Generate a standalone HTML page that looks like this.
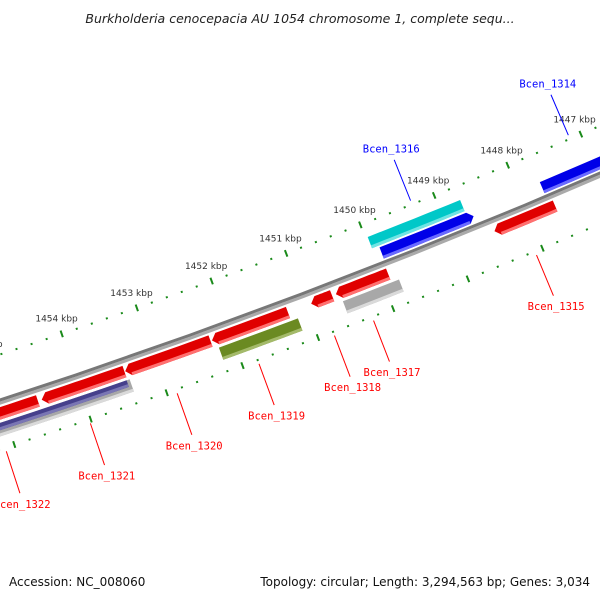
<!DOCTYPE html>
<html><head><meta charset="utf-8"><style>
body{margin:0;background:#fff;width:600px;height:600px;overflow:hidden;font-family:"DejaVu Sans","Liberation Sans",sans-serif}
svg{position:absolute;left:0;top:0}
</style></head><body>
<svg id="chart" width="600" height="600" viewBox="0 0 600 600">
<text x="300" y="23" text-anchor="middle" font-style="italic" font-size="12.5" fill="#222">Burkholderia cenocepacia AU 1054 chromosome 1, complete sequ...</text>
<g id="ticks"></g><g id="backbone"></g><g id="genes"></g><g id="labels"></g>
<text x="9" y="586" font-size="12" fill="#111">Accession: NC_008060</text>
<text x="590" y="586" text-anchor="end" font-size="12" fill="#111">Topology: circular; Length: 3,294,563 bp; Genes: 3,034</text>
</svg>
<script>
const geneNames=["Bcen_1314","Bcen_1316c","Bcen_1316","Bcen_1315","Bcen_1318","Bcen_1317r","Bcen_1317","Bcen_1319r","Bcen_1319","Bcen_1320","Bcen_1321r","Bcen_1321g","Bcen_1321p","Bcen_1322"];
const geneStart=[1447.71,1449.97,1449.88,1448.47,1450.93,1450.6,1450.55,1452.25,1452.2,1453.4,1454.5,1455.8,1455.8,1455.6];
const geneEnd=[1446.3,1448.72,1448.64,1447.65,1450.65,1449.9,1449.8,1451.24,1451.15,1452.27,1453.41,1453.38,1453.42,1454.55];
const geneRow=[1,2,1,-1,-1,-1,-2,-1,-2,-1,-1,-2,-2.2,-1];
const geneColor=["blue","cyan","blue","red","red","red","gray","red","olive","red","red","gray","purple","red"];
const geneDir=[1,0,1,-1,-1,-1,0,-1,0,-1,-1,0,0,-1];
const labelText=["Bcen_1314","Bcen_1316","Bcen_1315","Bcen_1318","Bcen_1317","Bcen_1319","Bcen_1320","Bcen_1321","Bcen_1322"];
const labelPos=[1447.15,1449.3,1448.1,1450.8,1450.28,1451.8,1452.88,1454.02,1455.12];
const labelSide=[1,1,-1,-1,-1,-1,-1,-1,-1];
const tickLabels=[1446,1447,1448,1449,1450,1451,1452,1453,1454,1455];

const R=-7000, pxPerKbp=80;
const n0=[-0.375,-0.927];
const C=[451-R*n0[0],237-R*n0[1]];
const a0=Math.atan2(n0[1],n0[0]);
function P(b,r){const a=a0-(b-1449)*pxPerKbp/R;return [C[0]+(R+r)*Math.cos(a),C[1]+(R+r)*Math.sin(a)];}
const NS="http://www.w3.org/2000/svg";
function mk(tag,attrs,parent){const e=document.createElementNS(NS,tag);for(const k in attrs)e.setAttribute(k,attrs[k]);parent.appendChild(e);return e;}
function pts(a){return a.map(p=>p[0].toFixed(1)+","+p[1].toFixed(1)).join(" ");}
function band(b1,b2,r1,r2){const o=[];const N=8;for(let i=0;i<=N;i++)o.push(P(b1+(b2-b1)*i/N,r2));for(let i=N;i>=0;i--)o.push(P(b1+(b2-b1)*i/N,r1));return o;}

const ticks=document.getElementById('ticks');
for(let i=0;i<=50;i++){
  const b=1446+i*0.2; const major=(i%5===0);
  [45,-45].forEach(rr=>{
    const p1=P(b,rr-(major?3.5:1)),p2=P(b,rr+(major?3.5:1));
    const t=mk('line',{x1:p1[0],y1:p1[1],x2:p2[0],y2:p2[1],stroke:'#1a8a1a','stroke-width':2},ticks);
    
    
  });
}
tickLabels.forEach(b=>{const p=P(b,61);const t=mk('text',{x:p[0],y:p[1]+3,'text-anchor':'middle','font-size':9,fill:'#333'},ticks);t.textContent=b+' kbp';
  
  });

const bb=document.getElementById('backbone');
let e=mk('polygon',{points:pts(band(1457,1445,-3,0)),fill:'#aaa'},bb);


e=mk('polygon',{points:pts(band(1457,1445,0,3)),fill:'#777'},bb);



const COL={red:['#e00000','#ff7070'],blue:['#0000e8','#6a6aff'],cyan:['#00c8c8','#70e4e4'],gray:['#a8a8a8','#dadada'],olive:['#6b8a22','#a4ba6a'],purple:['#46408c','#7a76b4']};
const genes=document.getElementById('genes');
const rowOff={1:[5,17],2:[19,31],'-1':[-17,-5],'-2':[-33,-20],'-2.2':[-27,-20]};
geneNames.forEach((nm,i)=>{
  const [rin,rout]=rowOff[geneRow[i]]; const rm=(rin+rout)/2;
  const c=COL[geneColor[i]];
  const b1=geneStart[i],b2=geneEnd[i];
  const head=0.07;
  const g=mk('g',{},genes);
  
  
  let s;const N=8;
  if(geneDir[i]===1){s=[];for(let k=0;k<=N;k++)s.push(P(b1+(b2+head-b1)*k/N,rout));s.push(P(b2,rm));for(let k=N;k>=0;k--)s.push(P(b1+(b2+head-b1)*k/N,rin));}
  else if(geneDir[i]===-1){s=[];s.push(P(b1,rm));for(let k=0;k<=N;k++)s.push(P(b1-head+(b2-b1+head)*k/N,rout));for(let k=N;k>=0;k--)s.push(P(b1-head+(b2-b1+head)*k/N,rin));}
  else s=band(b1,b2,rin,rout);
  e=mk('polygon',{points:pts(s),fill:c[0]},g);
  
  
  const lb1=geneDir[i]===-1?b1-head:b1, lb2=geneDir[i]===1?b2+head:b2;
  e=mk('polygon',{points:pts(band(lb1,lb2,rin,rin+3)),fill:c[1]},g);
  
  
});

const labels=document.getElementById('labels');
labelText.forEach((t,i)=>{
  const s=labelSide[i]; const col=s>0?'#0000ff':'#ff0000';
  const p1=P(labelPos[i],s*49),p2=P(labelPos[i],s*93);
  e=mk('line',{x1:p1[0],y1:p1[1],x2:p2[0],y2:p2[1],stroke:col,'stroke-width':1},labels);
  
  
  const p3=P(labelPos[i],s*(s>0?101:100));
  const tx=mk('text',{x:p3[0],y:p3[1]+(s>0?0:8),'text-anchor':'middle','font-size':10.5,'font-family':'"DejaVu Sans Mono","Liberation Mono",monospace',fill:col},labels);
  tx.textContent=t;
  
  
});
</script>
</body></html>
